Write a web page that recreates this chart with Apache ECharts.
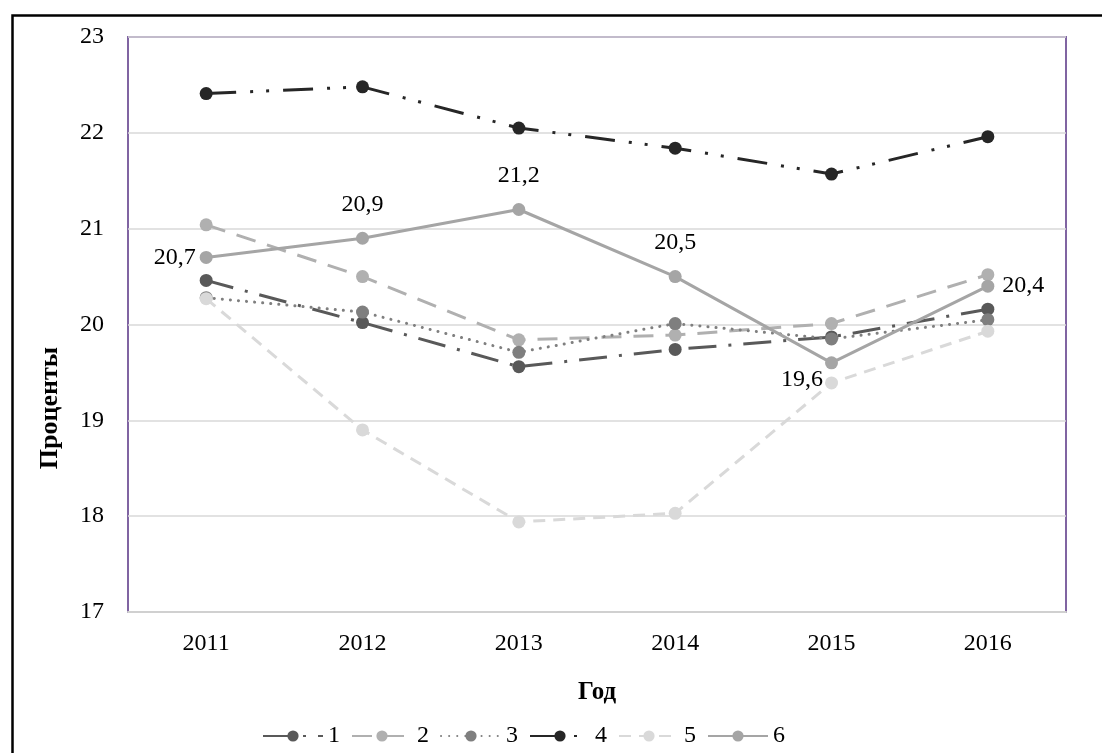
<!DOCTYPE html>
<html><head><meta charset="utf-8">
<script src="https://cdn.jsdelivr.net/npm/echarts@6/dist/echarts.min.js"></script>
<style>html,body{margin:0;padding:0;background:#fff}#c{width:1102px;height:753px}</style>
</head><body><div id="c"></div>
<script>
const categories = ['2011','2012','2013','2014','2015','2016'];
const seriesNames = ['1','2','3','4','5','6'];
const s1 = [20.46, 20.02, 19.56, 19.74, 19.87, 20.16];
const s2 = [21.04, 20.50, 19.84, 19.89, 20.01, 20.52];
const s3 = [20.28, 20.13, 19.71, 20.01, 19.85, 20.05];
const s4 = [22.41, 22.48, 22.05, 21.84, 21.57, 21.96];
const s5 = [20.27, 18.90, 17.94, 18.03, 19.39, 19.93];
const s6 = [20.7, 20.9, 21.2, 20.5, 19.6, 20.4];
const yTicks = {min: 17, max: 23, interval: 1};

const FONT = '"Liberation Serif", "Times New Roman", serif';
const colors = ['#595959', '#b0b0b0', '#7f7f7f', '#262626', '#d9d9d9', '#a5a5a5'];
const dashes = [[28, 12, 3, 12], [20, 12], [0.1, 8], [30, 14, 3, 13, 3, 14], [12, 8], 'solid'];
const caps = ['butt', 'butt', 'round', 'butt', 'butt', 'butt'];
const labelPos = [
  {position: 'left', distance: 4},
  {position: 'top', distance: 15},
  {position: 'top', distance: 15},
  {position: 'top', distance: 15},
  {position: 'left', distance: 2, offset: [0, 17]},
  {position: 'right', distance: 8}
];
const fmt = v => String(v).replace('.', ',');

const all = [s1, s2, s3, s4, s5, s6];
const series = all.map((d, i) => ({
  name: seriesNames[i],
  type: 'line',
  data: i === 5 ? d.map((v, j) => ({value: v, label: Object.assign({show: true}, labelPos[j])})) : d,
  symbol: 'circle',
  symbolSize: 13,
  itemStyle: {color: colors[i]},
  lineStyle: {color: colors[i], width: 3, type: dashes[i], cap: caps[i]},
  label: {show: false, formatter: p => fmt(p.value), fontFamily: FONT, fontSize: 24, color: '#000'},
  emphasis: {disabled: true},
  animation: false,
  z: 2 + i
}));

const chart = echarts.init(document.getElementById('c'), null, {renderer: 'canvas'});
chart.setOption({
  backgroundColor: '#fff',
  animation: false,
  grid: {left: 128, right: 36, top: 37, bottom: 141, show: true, borderColor: '#8064a2', borderWidth: 2, backgroundColor: 'transparent'},
  xAxis: {
    type: 'category', data: categories, boundaryGap: true,
    name: 'Год', nameLocation: 'middle', nameGap: 68,
    nameTextStyle: {fontFamily: FONT, fontSize: 25, fontWeight: 'bold', color: '#000'},
    axisLine: {show: true, lineStyle: {color: '#d0d0d0', width: 2}},
    axisTick: {show: false},
    axisLabel: {fontFamily: FONT, fontSize: 24, color: '#000', margin: 20}
  },
  yAxis: {
    type: 'value', min: yTicks.min, max: yTicks.max, interval: yTicks.interval,
    axisLine: {show: false}, axisTick: {show: false},
    axisLabel: {fontFamily: FONT, fontSize: 24, color: '#000', margin: 24},
    splitLine: {lineStyle: {color: '#d9d9d9', width: 1.5}}
  },
  legend: {
    data: seriesNames, left: 257, top: 719, itemWidth: 60, itemHeight: 14, itemGap: 11,
    textStyle: {fontFamily: FONT, fontSize: 24, color: '#000'},
    selectedMode: false
  },
  graphic: [
    {type: 'rect', left: 10, top: 13, shape: {width: 1200, height: 900}, style: {fill: 'none', stroke: '#000', lineWidth: 2.5}, silent: true},
    {type: 'text', x: 50, y: 408, rotation: Math.PI / 2, style: {text: 'Проценты', fontFamily: FONT, fontSize: 26, fontWeight: 'bold', fill: '#000', align: 'center', verticalAlign: 'middle'}}
  ],
  series: series
});
</script></body></html>
